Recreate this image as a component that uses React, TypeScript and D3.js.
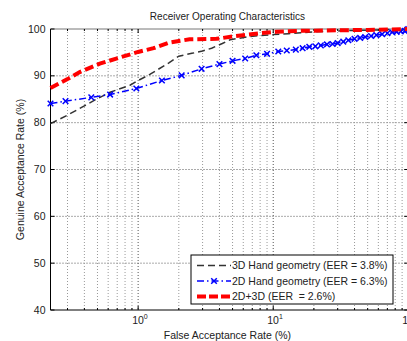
import React from 'react';
import * as d3 from 'd3';

// 3D hand geometry (black dashed)
const far3D = [0.2245, 0.3, 0.4, 0.49, 0.62, 0.87, 1.0, 1.22, 1.41, 1.7, 2.0, 2.5, 3.0, 3.5, 4.2, 4.8, 5.5, 6.7, 8.0, 10, 13, 16, 20, 25, 32, 40, 60, 100];
const gar3D = [79.8, 81.6, 83.6, 85.0, 86.5, 88.0, 89.0, 90.3, 91.4, 92.8, 94.2, 94.8, 95.3, 95.9, 96.9, 97.7, 98.0, 98.4, 98.6, 98.8, 99.0, 99.2, 99.4, 99.5, 99.6, 99.7, 99.8, 100];

// 2D hand geometry (blue dash-dot with x markers)
const far2D = [0.2245, 0.29, 0.45, 0.62, 0.97, 1.5, 2.1, 2.95, 4.0, 5.0, 6.2, 7.5, 9.0, 10.9, 12.6, 14.7, 16.5, 18.5, 20.5, 22.5, 25, 27.5, 30, 33, 36, 40, 44, 48, 53, 58, 64, 70, 76, 82, 88, 94, 98, 100];
const gar2D = [84.1, 84.6, 85.4, 86.0, 87.3, 89.0, 90.1, 91.5, 92.5, 93.2, 93.7, 94.4, 94.7, 95.2, 95.4, 95.6, 95.9, 96.2, 96.3, 96.5, 96.7, 96.8, 97.0, 97.3, 97.6, 97.9, 98.1, 98.3, 98.5, 98.7, 98.9, 99.1, 99.3, 99.4, 99.5, 99.6, 99.8, 100];

// 2D+3D fusion (red thick dashed)
const farFused = [0.2245, 0.3, 0.37, 0.52, 0.73, 1.0, 1.3, 1.7, 2.4, 3.8, 5.3, 8.0, 10.5, 16, 25, 50, 100];
const garFused = [87.4, 89.3, 90.8, 92.6, 93.9, 95.1, 95.9, 97.1, 97.8, 97.9, 98.5, 99.1, 99.4, 99.6, 99.7, 99.8, 100];

const yTicks = [40, 50, 60, 70, 80, 90, 100];
const xMajor = [1, 10, 100];
const xMinor = [0.3, 0.4, 0.5, 0.6, 0.7, 0.8, 0.9, 2, 3, 4, 5, 6, 7, 8, 9, 20, 30, 40, 50, 60, 70, 80, 90];

const legendLabels = ['3D Hand geometry (EER = 3.8%)', '2D Hand geometry (EER = 6.3%)', '2D+3D (EER  = 2.6%)'];

const W = 407;
const H = 341;
const FONT = 'Liberation Sans, Arial, Helvetica, sans-serif';

export default function App() {
  const x = d3.scaleLog().domain([0.2245, 100]).range([50.5, 408.3]);
  const y = d3.scaleLinear().domain([40, 100]).range([310, 29]);
  const x0 = x.range()[0];
  const x1 = x.range()[1];
  const yTop = y(100);
  const yBot = y(40);

  const line = d3
    .line<[number, number]>()
    .x((d) => x(d[0]))
    .y((d) => y(d[1]));

  const pts3D = far3D.map((v, i) => [v, gar3D[i]] as [number, number]);
  const pts2D = far2D.map((v, i) => [v, gar2D[i]] as [number, number]);
  const ptsFused = farFused.map((v, i) => [v, garFused[i]] as [number, number]);

  const cross = (cx: number, cy: number, s: number, key: string) => (
    <path
      key={key}
      d={`M${cx - s},${cy - s}L${cx + s},${cy + s}M${cx - s},${cy + s}L${cx + s},${cy - s}`}
      stroke="#0000ff"
      strokeWidth={1.5}
      fill="none"
    />
  );

  const lg = { x: 191, y: 255, w: 202, h: 49 };
  const rowY = [265.5, 281, 296.5];

  return (
    <svg
      width={W}
      height={H}
      style={{ position: 'absolute', left: 0, top: 0, background: '#fff' }}
      fontFamily={FONT}
    >
      <rect x={0} y={0} width={W} height={H} fill="#fff" />

      {/* grid */}
      {yTicks.slice(1, -1).map((t) => (
        <line key={'gy' + t} x1={x0} x2={x1} y1={y(t)} y2={y(t)} stroke="#555" strokeDasharray="1,2" />
      ))}
      {xMinor.map((t) => (
        <line key={'gxm' + t} x1={x(t)} x2={x(t)} y1={yTop} y2={yBot} stroke="#999" strokeDasharray="1,2" />
      ))}
      {xMajor.map((t) => (
        <line key={'gx' + t} x1={x(t)} x2={x(t)} y1={yTop} y2={yBot} stroke="#555" strokeDasharray="1,2" />
      ))}

      {/* axes box */}
      <line x1={x0} x2={x1} y1={yTop} y2={yTop} stroke="#777" />
      <line x1={x0} x2={x1} y1={yBot} y2={yBot} stroke="#000" />
      <line x1={x0} x2={x0} y1={yTop} y2={yBot} stroke="#000" />
      <line x1={x1} x2={x1} y1={yTop} y2={yBot} stroke="#777" />

      {/* ticks */}
      {yTicks.map((t) => (
        <g key={'ty' + t}>
          <line x1={x0} x2={x0 + 4} y1={y(t)} y2={y(t)} stroke="#000" />
          <line x1={x1 - 4} x2={x1} y1={y(t)} y2={y(t)} stroke="#000" />
          <text x={x0 - 5} y={y(t) + 3.5} textAnchor="end" fontSize={10.5} fill="#222">
            {t}
          </text>
        </g>
      ))}
      {xMinor.map((t) => (
        <g key={'txm' + t}>
          <line x1={x(t)} x2={x(t)} y1={yBot} y2={yBot - 2} stroke="#000" />
          <line x1={x(t)} x2={x(t)} y1={yTop} y2={yTop + 2} stroke="#000" />
        </g>
      ))}
      {xMajor.map((t, i) => (
        <g key={'tx' + t}>
          <line x1={x(t)} x2={x(t)} y1={yBot} y2={yBot - 4} stroke="#000" />
          <line x1={x(t)} x2={x(t)} y1={yTop} y2={yTop + 4} stroke="#000" />
          <text x={x(t) - 6} y={yBot + 14} fontSize={10.5} fill="#222">
            10
            <tspan dy={-5} fontSize={7}>
              {i}
            </tspan>
          </text>
        </g>
      ))}

      {/* series */}
      <path d={line(pts3D) || ''} fill="none" stroke="#333" strokeWidth={1.5} strokeDasharray="7,4" />
      <path d={line(pts2D) || ''} fill="none" stroke="#0000ff" strokeWidth={1.5} strokeDasharray="7,3,1.5,3" />
      {pts2D.map((p, i) => cross(x(p[0]), y(p[1]), 2.8, 'm' + i))}
      <path d={line(ptsFused) || ''} fill="none" stroke="#ff0000" strokeWidth={4} strokeDasharray="9,4" />

      {/* labels */}
      <text x={(x0 + x1) / 2 - 2} y={20} textAnchor="middle" fontSize={10} fill="#222">
        Receiver Operating Characteristics
      </text>
      <text x={(x0 + x1) / 2 - 2} y={339} textAnchor="middle" fontSize={10.5} fill="#222">
        False Acceptance Rate (%)
      </text>
      <text
        transform={`translate(24,${(yTop + yBot) / 2}) rotate(-90)`}
        textAnchor="middle"
        fontSize={10.5}
        fill="#222"
      >
        Genuine Acceptance Rate (%)
      </text>

      {/* legend */}
      <rect x={lg.x} y={lg.y} width={lg.w} height={lg.h} fill="#fff" stroke="#000" />
      <line x1={197} x2={231} y1={rowY[0]} y2={rowY[0]} stroke="#333" strokeWidth={1.5} strokeDasharray="7,4" />
      <line x1={197} x2={231} y1={rowY[1]} y2={rowY[1]} stroke="#0000ff" strokeWidth={1.5} strokeDasharray="7,3,1.5,3" />
      {cross(214, rowY[1], 2.8, 'lm')}
      <line x1={197} x2={231} y1={rowY[2]} y2={rowY[2]} stroke="#ff0000" strokeWidth={4} strokeDasharray="9,3" />
      {legendLabels.map((s, i) => (
        <text key={s} x={232} y={rowY[i] + 3.7} fontSize={10.5} fill="#222" style={{ whiteSpace: 'pre' }}>
          {s}
        </text>
      ))}
    </svg>
  );
}
